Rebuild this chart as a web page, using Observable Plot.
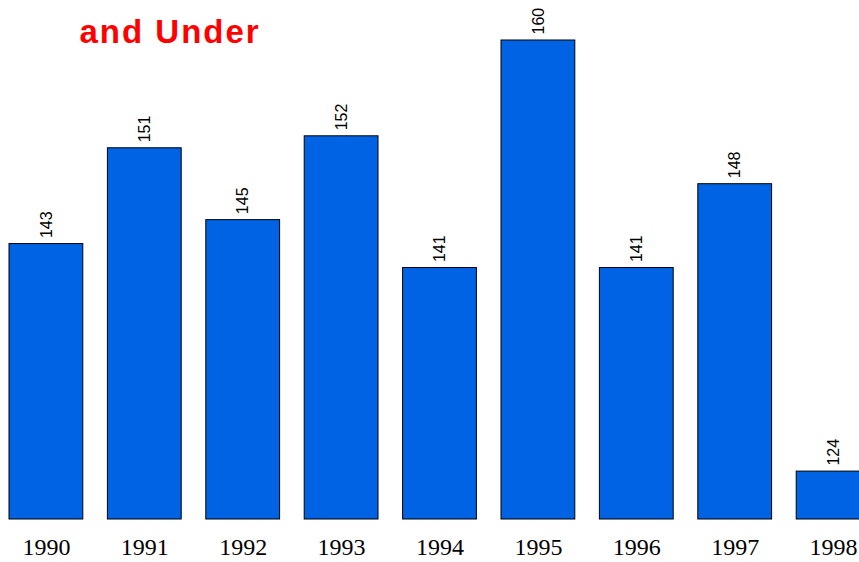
<!DOCTYPE html>
<html>
<head>
<meta charset="utf-8">
<script src="https://cdn.jsdelivr.net/npm/d3@7"></script>
<script src="https://cdn.jsdelivr.net/npm/@observablehq/plot@0.6"></script>
<style>
  html, body { margin: 0; padding: 0; background: #fff; overflow: hidden; }
  #chart svg { display: block; }
</style>
</head>
<body>
<div id="chart"></div>
<script>
const years = ["1990", "1991", "1992", "1993", "1994", "1995", "1996", "1997", "1998"];
const values = [143, 151, 145, 152, 141, 160, 141, 148, 124];
const titleLine = "and Under";

const data = years.map((year, i) => ({year, value: values[i]}));

const chart = Plot.plot({
  width: 859,
  height: 562,
  marginTop: 40,
  marginBottom: 43,
  marginLeft: 0,
  marginRight: 0,
  style: {background: "#fff", overflow: "hidden"},
  x: {domain: years, range: [9, 870], paddingInner: 0.25, paddingOuter: 0, align: 0, round: false, label: null},
  y: {domain: [120, 160], axis: null},
  marks: [
    Plot.barY(data, {x: "year", y1: 120, y2: "value", fill: "#0063E3", stroke: "#000", strokeWidth: 1}),
    Plot.text(data, {x: "year", y: "value", text: d => String(d.value), rotate: -90, textAnchor: "start", dy: -6,
      fontFamily: "Liberation Sans, Arial, sans-serif", fontSize: 16, fill: "#000"}),
    Plot.axisX({tickSize: 0, tickPadding: 18, fontFamily: "Liberation Serif, Times New Roman, serif", fontSize: 24, label: null, fill: "#000"}),
    Plot.text([titleLine], {frameAnchor: "top-left", dx: 79, dy: -8, textAnchor: "start", lineAnchor: "middle",
      fontFamily: "Liberation Sans, Arial, sans-serif", fontWeight: "bold", fontSize: 33, fill: "#FF0000"})
  ]
});
d3.select(chart).selectAll("text").filter(function() { return this.textContent === titleLine; })
  .style("letter-spacing", "2px");
document.getElementById("chart").appendChild(chart);
</script>
</body>
</html>
